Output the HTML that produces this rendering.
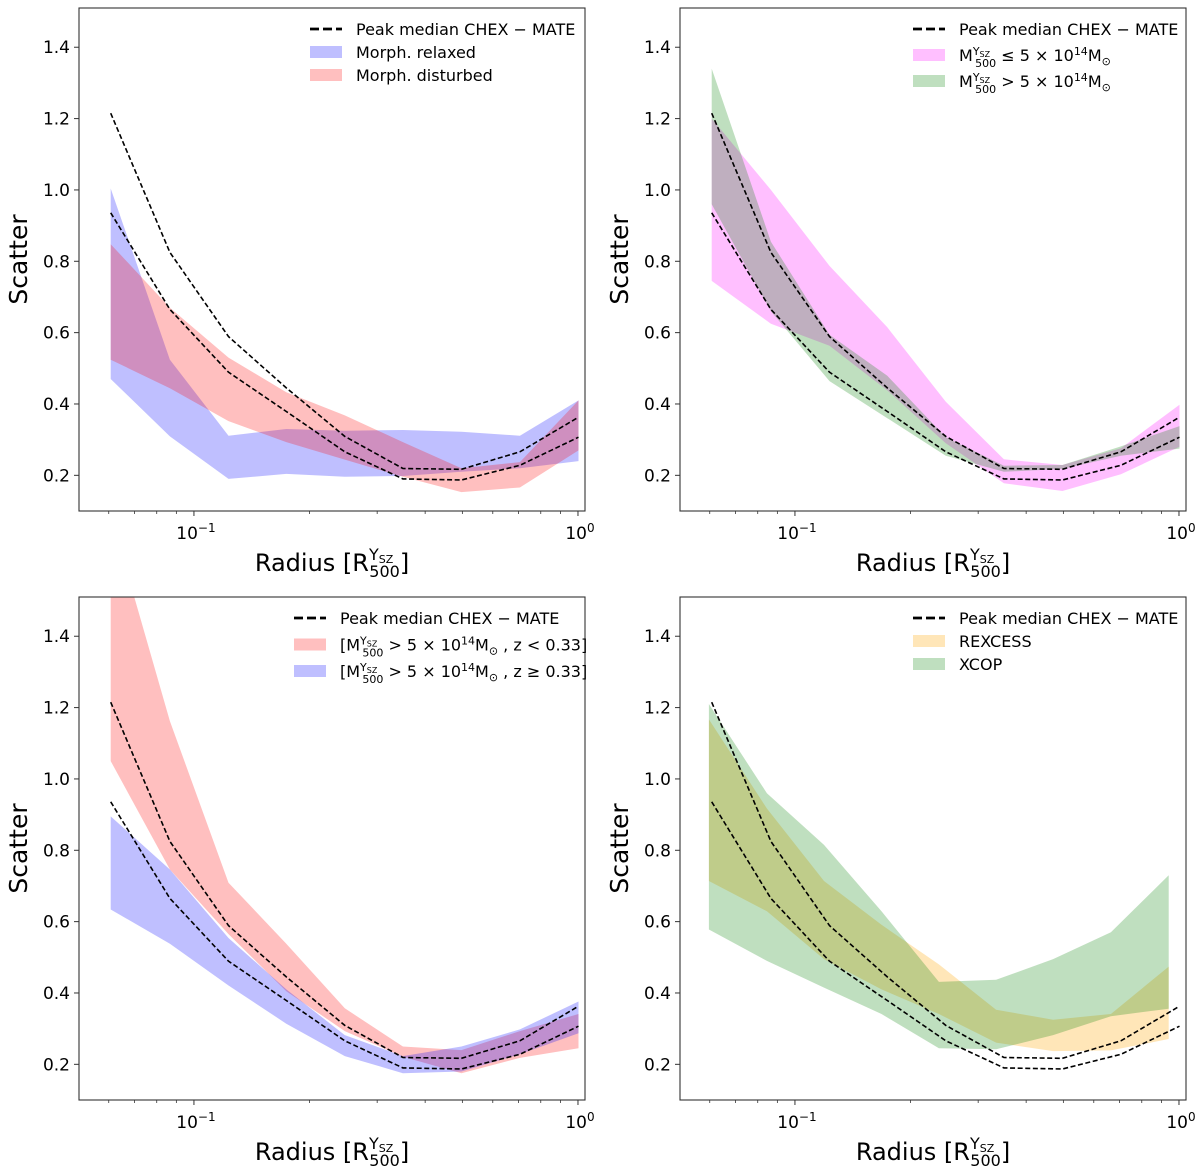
<!DOCTYPE html>
<html><head><meta charset="utf-8">
<style>
html,body{margin:0;padding:0;background:#fff;}
svg{display:block;font-family:"DejaVu Sans","Liberation Sans",sans-serif;}
</style></head>
<body>
<svg id="fig" width="1200" height="1173" viewBox="0 0 1200 1173" xmlns="http://www.w3.org/2000/svg"></svg>
<script>
// ---- data ----
const radii = [0.0607, 0.0866, 0.123, 0.174, 0.247, 0.35, 0.497, 0.706, 1.003];
const radiiXcop = [0.0597, 0.0845, 0.119, 0.168, 0.237, 0.334, 0.47, 0.665, 0.94];
const medianHigh = [1.215, 0.825, 0.589, 0.445, 0.309, 0.219, 0.217, 0.266, 0.363];
const medianLow = [0.936, 0.665, 0.489, 0.379, 0.266, 0.19, 0.187, 0.228, 0.307];
const relaxedUp = [1.004, 0.524, 0.311, 0.33, 0.325, 0.327, 0.322, 0.311, 0.41];
const relaxedLo = [0.47, 0.309, 0.19, 0.204, 0.196, 0.198, 0.21, 0.22, 0.24];
const disturbedUp = [0.848, 0.67, 0.53, 0.433, 0.368, 0.293, 0.22, 0.237, 0.41];
const disturbedLo = [0.524, 0.444, 0.352, 0.293, 0.244, 0.196, 0.153, 0.166, 0.27];
const lowMassUp = [1.2, 1.0, 0.787, 0.615, 0.406, 0.245, 0.229, 0.276, 0.398];
const lowMassLo = [0.745, 0.625, 0.563, 0.438, 0.29, 0.178, 0.156, 0.203, 0.28];
const highMassUp = [1.34, 0.855, 0.594, 0.479, 0.307, 0.227, 0.229, 0.281, 0.338];
const highMassLo = [0.96, 0.66, 0.464, 0.36, 0.255, 0.21, 0.218, 0.255, 0.275];
const lowZUp = [1.74, 1.162, 0.709, 0.538, 0.357, 0.25, 0.24, 0.293, 0.341];
const lowZLo = [1.05, 0.746, 0.565, 0.405, 0.293, 0.221, 0.175, 0.218, 0.245];
const highZUp = [0.895, 0.746, 0.554, 0.41, 0.282, 0.223, 0.25, 0.298, 0.376];
const highZLo = [0.634, 0.538, 0.421, 0.314, 0.223, 0.175, 0.18, 0.228, 0.287];
const rexcessUp = [1.167, 0.917, 0.714, 0.591, 0.48, 0.353, 0.325, 0.341, 0.474];
const rexcessLo = [0.714, 0.629, 0.495, 0.41, 0.341, 0.261, 0.237, 0.239, 0.271];
const xcopUp = [1.21, 0.96, 0.815, 0.629, 0.431, 0.437, 0.495, 0.57, 0.73];
const xcopLo = [0.578, 0.49, 0.415, 0.341, 0.245, 0.242, 0.282, 0.335, 0.356];
const yTicks = [0.2, 0.4, 0.6, 0.8, 1.0, 1.2, 1.4];
const yTickLabels = ["0.2", "0.4", "0.6", "0.8", "1.0", "1.2", "1.4"];
const xMajor = [0.1, 1];
const xMinor = [0.06, 0.07, 0.08, 0.09, 0.2, 0.3, 0.4, 0.5, 0.6, 0.7, 0.8, 0.9];

const NS = "http://www.w3.org/2000/svg";
const fig = document.getElementById('fig');
function mk(tag, attrs, parent) {
  const e = document.createElementNS(NS, tag);
  for (const k in attrs) e.setAttribute(k, attrs[k]);
  (parent || fig).appendChild(e);
  return e;
}
const XMIN = Math.log10(0.0502), XMAX = Math.log10(1.043), YMIN = 0.1, YMAX = 1.51;

function panel(id, px, py, bands, legendItems, legX) {
  const L = px, R = px + 506, T = py, B = py + 503;
  const sx = v => L + (Math.log10(v) - XMIN) / (XMAX - XMIN) * (R - L);
  const sy = v => B - (v - YMIN) / (YMAX - YMIN) * (B - T);
  const g = mk('g', {});
  
  
  const cid = 'clip-' + id;
  const cp = mk('clipPath', {id: cid}, g);
  mk('rect', {x: L, y: T, width: R - L, height: B - T}, cp);
  const plot = mk('g', {'clip-path': 'url(#' + cid + ')'}, g);
  bands.forEach(b => {
    let d = '';
    b.xs.forEach((x, i) => { d += (i ? 'L' : 'M') + sx(x).toFixed(1) + ',' + sy(b.up[i]).toFixed(1); });
    for (let i = b.xs.length - 1; i >= 0; i--) d += 'L' + sx(b.xs[i]).toFixed(1) + ',' + sy(b.lo[i]).toFixed(1);
    const p = mk('path', {d: d + 'Z', fill: b.color, 'fill-opacity': b.alpha, stroke: 'none'}, plot);
    
    
  });
  [medianHigh, medianLow].forEach((arr, k) => {
    const pts = radii.map((x, i) => sx(x).toFixed(1) + ',' + sy(arr[i]).toFixed(1)).join(' ');
    const l = mk('polyline', {points: pts, fill: 'none', stroke: '#000', 'stroke-width': 1.6, 'stroke-dasharray': '5,2.6'}, plot);
    
    
  });
  const fr = mk('rect', {x: L, y: T, width: R - L, height: B - T, fill: 'none', stroke: '#333', 'stroke-width': 1.1}, g);
  
  
  yTicks.forEach((v, i) => {
    const y = sy(v);
    mk('line', {x1: L - 5, x2: L, y1: y, y2: y, stroke: '#333', 'stroke-width': 1}, g);
    const t = mk('text', {x: L - 9, y: y + 6, 'text-anchor': 'end', 'font-size': 17, fill: '#000'}, g);
    t.textContent = yTickLabels[i];
    
    
  });
  xMinor.forEach(v => { const x = sx(v); mk('line', {x1: x, x2: x, y1: B, y2: B + 3, stroke: '#333', 'stroke-width': 0.8}, g); });
  xMajor.forEach((v, i) => {
    const x = sx(v);
    mk('line', {x1: x, x2: x, y1: B, y2: B + 5, stroke: '#333', 'stroke-width': 1}, g);
    const t = mk('text', {x: x + 2, y: B + 28, 'text-anchor': 'middle', 'font-size': 17, fill: '#000'}, g);
    t.innerHTML = i ? '10<tspan dy="-7" font-size="12">0</tspan>' : '10<tspan dy="-7" font-size="12">\u22121</tspan>';
    
    
  });
  const xl = mk('text', {x: L + 253, y: B + 60, 'text-anchor': 'middle', 'font-size': 24, fill: '#000'}, g);
  xl.innerHTML = 'Radius [R<tspan font-size="16" dy="-11">Y</tspan><tspan font-size="11" dy="3">SZ</tspan><tspan font-size="16" dx="-24" dy="14">500</tspan><tspan dy="-6">]</tspan>';
  
  
  const yl = mk('text', {x: 0, y: 0, transform: 'translate(' + (L - 52) + ',' + ((T + B) / 2) + ') rotate(-90)', 'text-anchor': 'middle', 'font-size': 25, fill: '#000'}, g);
  yl.textContent = 'Scatter';
  
  
  const lg = mk('g', {}, g);
  
  
  legendItems.forEach((it, i) => {
    const y = T + 21 + i * it.gap;
    if (it.kind === 'line') {
      mk('line', {x1: legX, x2: legX + 32, y1: y, y2: y, stroke: '#000', 'stroke-width': 2.8, 'stroke-dasharray': '9,4'}, lg);
    } else {
      mk('rect', {x: legX, y: y - 6, width: 32, height: 12, fill: it.color, 'fill-opacity': it.alpha}, lg);
    }
    const t = mk('text', {x: legX + 46, y: y + 6, 'font-size': 16, fill: '#000'}, lg);
    t.innerHTML = it.label;
    
    
  });
}
const M500 = 'M<tspan font-size="11" dy="-6">Y</tspan><tspan font-size="8" dy="2">SZ</tspan><tspan font-size="11" dx="-15" dy="10">500</tspan><tspan dy="-6"> </tspan>';
const MED = {kind: 'line', label: 'Peak median CHEX \u2212 MATE', gap: 23};

panel('panel-morphology', 79, 8, [
  {name: 'band-relaxed', xs: radii, up: relaxedUp, lo: relaxedLo, color: '#0000ff', alpha: 0.25},
  {name: 'band-disturbed', xs: radii, up: disturbedUp, lo: disturbedLo, color: '#ff0000', alpha: 0.25}
], [MED, {kind: 'rect', color: '#0000ff', alpha: 0.25, label: 'Morph.  relaxed', gap: 23},
    {kind: 'rect', color: '#ff0000', alpha: 0.25, label: 'Morph.  disturbed', gap: 23}], 310);

panel('panel-mass', 680, 8, [
  {name: 'band-low-mass', xs: radii, up: lowMassUp, lo: lowMassLo, color: '#ff00ff', alpha: 0.25},
  {name: 'band-high-mass', xs: radii, up: highMassUp, lo: highMassLo, color: '#008000', alpha: 0.25}
], [MED, {kind: 'rect', color: '#ff00ff', alpha: 0.25, label: M500 + '\u2264 5 \u00d7 10<tspan font-size="11" dy="-6">14</tspan><tspan dy="6">M</tspan><tspan font-size="11" dy="4">\u2299</tspan>', gap: 26},
    {kind: 'rect', color: '#008000', alpha: 0.25, label: M500 + '&gt; 5 \u00d7 10<tspan font-size="11" dy="-6">14</tspan><tspan dy="6">M</tspan><tspan font-size="11" dy="4">\u2299</tspan>', gap: 26}], 913);

panel('panel-redshift', 79, 597, [
  {name: 'band-low-z', xs: radii, up: lowZUp, lo: lowZLo, color: '#ff0000', alpha: 0.25},
  {name: 'band-high-z', xs: radii, up: highZUp, lo: highZLo, color: '#0000ff', alpha: 0.25}
], [MED, {kind: 'rect', color: '#ff0000', alpha: 0.25, label: '[' + M500 + '&gt; 5 \u00d7 10<tspan font-size="11" dy="-6">14</tspan><tspan dy="6">M</tspan><tspan font-size="11" dy="4">\u2299</tspan><tspan dy="-4"> , z &lt; 0.33]</tspan>', gap: 26.5},
    {kind: 'rect', color: '#0000ff', alpha: 0.25, label: '[' + M500 + '&gt; 5 \u00d7 10<tspan font-size="11" dy="-6">14</tspan><tspan dy="6">M</tspan><tspan font-size="11" dy="4">\u2299</tspan><tspan dy="-4"> , z \u2265 0.33]</tspan>', gap: 26.5}], 294);

panel('panel-samples', 680, 597, [
  {name: 'band-rexcess', xs: radiiXcop, up: rexcessUp, lo: rexcessLo, color: '#ffa500', alpha: 0.28},
  {name: 'band-xcop', xs: radiiXcop, up: xcopUp, lo: xcopLo, color: '#008000', alpha: 0.25}
], [MED, {kind: 'rect', color: '#ffa500', alpha: 0.28, label: 'REXCESS', gap: 23},
    {kind: 'rect', color: '#008000', alpha: 0.25, label: 'XCOP', gap: 23}], 913);
</script>
</body></html>
